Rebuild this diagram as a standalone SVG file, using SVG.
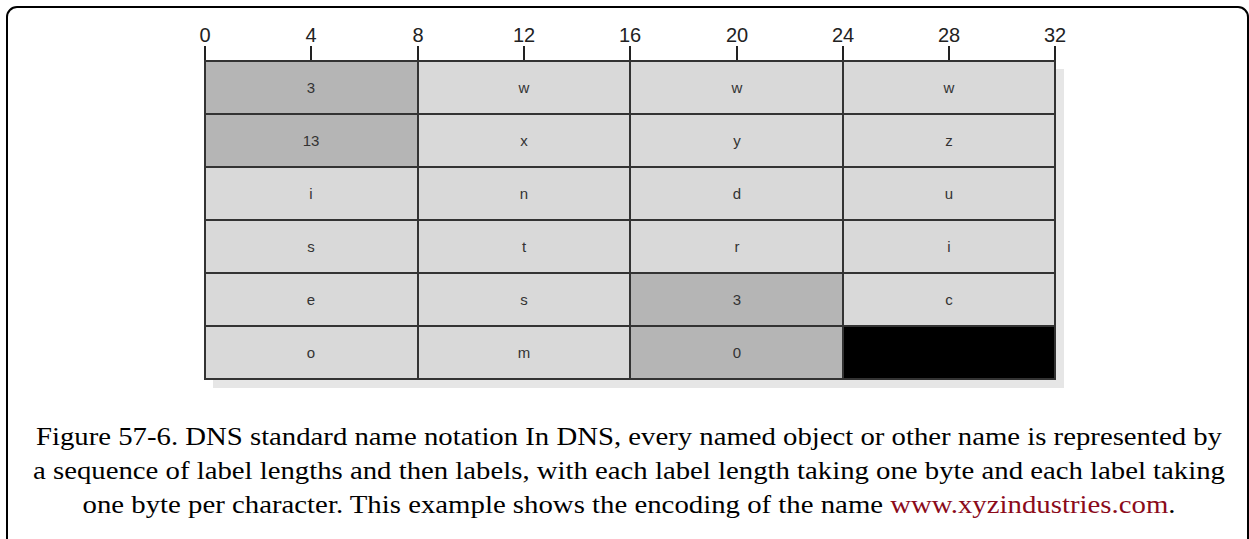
<svg xmlns="http://www.w3.org/2000/svg" width="1249" height="539" viewBox="0 0 1249 539">
<style>
.tick{font-family:"Liberation Sans",Arial,sans-serif;font-size:20px;fill:#222;text-anchor:middle}
.cell{font-family:"Liberation Sans",Arial,sans-serif;font-size:15px;fill:#333;text-anchor:middle}
.light{fill:#d9d9d9}
.dark{fill:#b5b5b5}
.grid{stroke:#333;stroke-width:2;fill:none}
.cap{font-family:"Liberation Serif","Times New Roman",serif;font-size:25px;fill:#000;text-anchor:middle}
</style>
<rect x="7" y="7" width="1241" height="545" rx="10" fill="#fff" stroke="#000" stroke-width="2"/>
<g id="shadow"><rect x="213" y="69" width="851" height="319" fill="#e6e6e6"/></g>
<g id="ruler">
<text class="tick" x="205" y="42">0</text>
<text class="tick" x="311" y="42">4</text>
<text class="tick" x="418" y="42">8</text>
<text class="tick" x="524" y="42">12</text>
<text class="tick" x="630" y="42">16</text>
<text class="tick" x="737" y="42">20</text>
<text class="tick" x="843" y="42">24</text>
<text class="tick" x="949" y="42">28</text>
<text class="tick" x="1055" y="42">32</text>
<g stroke="#222" stroke-width="2">
<line x1="205" y1="46" x2="205" y2="61"/>
<line x1="311" y1="46" x2="311" y2="61"/>
<line x1="418" y1="46" x2="418" y2="61"/>
<line x1="524" y1="46" x2="524" y2="61"/>
<line x1="630" y1="46" x2="630" y2="61"/>
<line x1="737" y1="46" x2="737" y2="61"/>
<line x1="843" y1="46" x2="843" y2="61"/>
<line x1="949" y1="46" x2="949" y2="61"/>
<line x1="1055" y1="46" x2="1055" y2="61"/>
</g>
</g>
<g id="cells">
<rect class="dark" x="205" y="61" width="213" height="53"/>
<rect class="light" x="418" y="61" width="637" height="53"/>
<rect class="dark" x="205" y="114" width="213" height="53"/>
<rect class="light" x="418" y="114" width="637" height="53"/>
<rect class="light" x="205" y="167" width="850" height="159"/>
<rect class="dark" x="630" y="273" width="213" height="106"/>
<rect class="light" x="205" y="326" width="425" height="53"/>
<rect x="843" y="326" width="212" height="53" fill="#000"/>
</g>
<g id="connectors">
<path class="grid" d="M418 61V379M630 61V379M843 61V379M205 114H1055M205 167H1055M205 220H1055M205 273H1055M205 326H1055"/>
<rect class="grid" x="205" y="61" width="850" height="318" stroke-width="3"/>
</g>
<g id="labels">
<text class="cell" x="311" y="93">3</text>
<text class="cell" x="524" y="93">w</text>
<text class="cell" x="737" y="93">w</text>
<text class="cell" x="949" y="93">w</text>
<text class="cell" x="311" y="146">13</text>
<text class="cell" x="524" y="146">x</text>
<text class="cell" x="737" y="146">y</text>
<text class="cell" x="949" y="146">z</text>
<text class="cell" x="311" y="199">i</text>
<text class="cell" x="524" y="199">n</text>
<text class="cell" x="737" y="199">d</text>
<text class="cell" x="949" y="199">u</text>
<text class="cell" x="311" y="252">s</text>
<text class="cell" x="524" y="252">t</text>
<text class="cell" x="737" y="252">r</text>
<text class="cell" x="949" y="252">i</text>
<text class="cell" x="311" y="305">e</text>
<text class="cell" x="524" y="305">s</text>
<text class="cell" x="737" y="305">3</text>
<text class="cell" x="949" y="305">c</text>
<text class="cell" x="311" y="358">o</text>
<text class="cell" x="524" y="358">m</text>
<text class="cell" x="737" y="358">0</text>
</g>
<g id="caption">
<text class="cap" x="629" y="445" textLength="1186" lengthAdjust="spacingAndGlyphs">Figure 57-6. DNS standard name notation In DNS, every named object or other name is represented by</text>
<text class="cap" x="629" y="479" textLength="1192" lengthAdjust="spacingAndGlyphs">a sequence of label lengths and then labels, with each label length taking one byte and each label taking</text>
<text class="cap" x="629" y="513" textLength="1093" lengthAdjust="spacingAndGlyphs">one byte per character. This example shows the encoding of the name <tspan fill="#8b0a1a">www.xyzindustries.com</tspan>.</text>
</g>
</svg>
